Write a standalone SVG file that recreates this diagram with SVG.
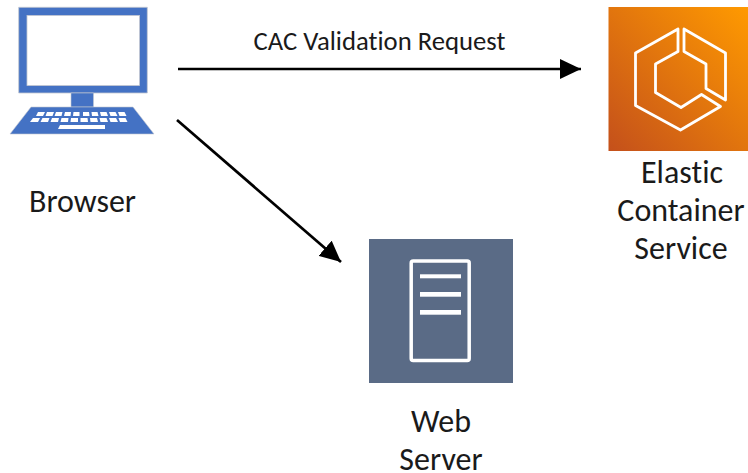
<svg xmlns="http://www.w3.org/2000/svg" width="748" height="473" viewBox="0 0 748 473">
<style>
text{font-family:"Carlito","Lato","Open Sans",sans-serif;fill:#1a1a1a;font-variant-ligatures:none}
.n{font-size:32px;text-anchor:middle}
.w{fill:#fff}
.c{fill:none;stroke:#000;stroke-width:2.7}
</style>
<defs>
<linearGradient id="o" x1="0" y1="1" x2="1" y2="0"><stop offset="0" stop-color="#c4501b"/><stop offset="1" stop-color="#ff9a00"/></linearGradient>
<marker id="a" markerUnits="userSpaceOnUse" markerWidth="22" markerHeight="20" refX="21" refY="10" orient="auto"><path d="M0 0L21 10L0 20Z"/></marker>
</defs>
<rect width="748" height="473" fill="#fff"/>
<g id="connectors">
<path class="c" d="M178 69H581" marker-end="url(#a)"/>
<path class="c" d="M177 120L341 262" marker-end="url(#a)"/>
<text x="379.500" y="50" font-size="26.700" text-anchor="middle">CAC Validation Request</text>
</g>
<g id="browser">
<path fill="#4472c4" stroke="#c4c8d0" stroke-width=".8" d="M18.700 7.300H147.300V93H18.700Z"/>
<rect x="27" y="15.500" width="112.500" height="70" fill="#fff" stroke="#c4c8d0" stroke-width=".8"/>
<rect x="71" y="93" width="22.500" height="14" fill="#4472c4" stroke="#c4c8d0" stroke-width=".6"/>
<path fill="#4472c4" stroke="#c4c8d0" stroke-width=".6" d="M31 107H133L154 134H10Z"/>
<g class="w">
<path d="M38 112h7l-2 4h-7zM47 112h7l-1.500 4h-7zM56 112h6.500l-1 4h-7zM65 112h6l-.5 4h-6.500zM73.500 112h6v4h-6.500zM83 112h6l.5 4h-6.500zM91.500 112h6l1 4h-6.500zM100 112h6.500l1.500 4h-7zM109 112h6.500l2 4h-7zM118 112h6.500l2 4h-7z"/>
<path d="M33 118h7l-2 4h-8zM42.500 118h7l-1.500 4h-7.500zM52 118h7l-1 4h-7.500zM61.500 118h7l-.5 4h-7.500zM71 118h7v4h-7.500zM80.500 118h7l.5 4h-7.500zM90 118h7l1 4h-7.500zM99.500 118h7l1.500 4h-7.500zM109 118h7l2 4h-7.500zM118.500 118h7l2 4h-7.500z"/>
<path d="M60 125h45v4H58z"/>
</g>
<text class="n" x="82.500" y="212">Browser</text>
</g>
<g id="ecs">
<rect x="608.500" y="7" width="139.500" height="144" fill="url(#o)"/>
<g fill="none" stroke="#fff" stroke-width="2.800" stroke-linejoin="round">
<path d="M678 29L635.500 53V105.500L680.500 130L720.500 106.500L701.500 94.500L681 107.500L655.500 92.500V64L678 51.500Z"/>
<path d="M684 29L725.500 53V100L706 88.500V64L684 51.500Z"/>
</g>
<text class="n" x="682" y="183">Elastic</text>
<text class="n" x="681" y="221">Container</text>
<text class="n" x="681" y="259">Service</text>
</g>
<g id="web-server">
<rect x="369" y="239" width="144" height="144" fill="#5a6b86"/>
<rect x="411.200" y="261" width="58" height="99.500" rx="2" fill="none" stroke="#fff" stroke-width="3.500"/>
<rect class="w" x="420" y="274.300" width="41" height="4"/>
<rect class="w" x="420" y="292" width="41" height="4.700"/>
<rect class="w" x="420" y="310" width="41" height="4.700"/>
<text class="n" x="441" y="432">Web</text>
<text class="n" x="441" y="470">Server</text>
</g>
</svg>
